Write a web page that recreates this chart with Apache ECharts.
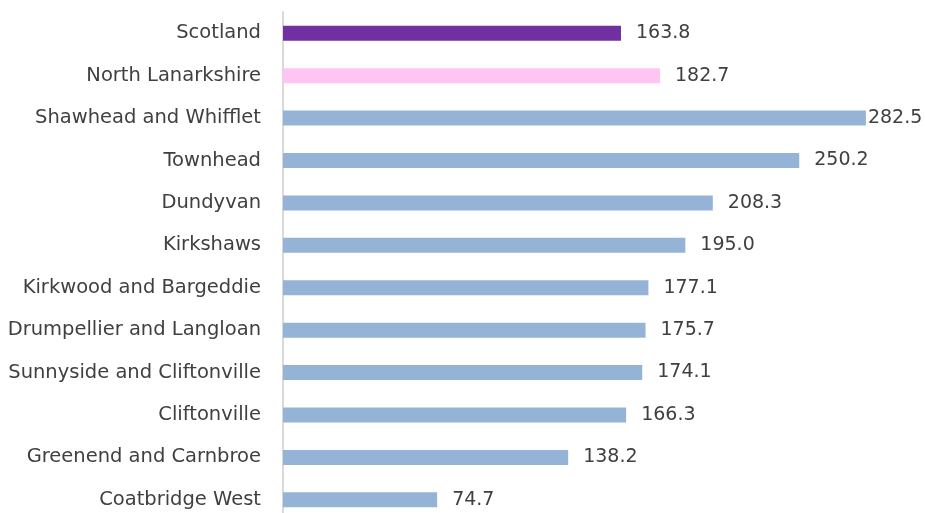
<!DOCTYPE html>
<html>
<head>
<meta charset="utf-8">
<script src="https://cdn.jsdelivr.net/npm/echarts@6/dist/echarts.min.js"></script>
<style>
  html, body { margin: 0; padding: 0; background: #fff; }
  #chart { width: 925px; height: 513px; }
</style>
</head>
<body>
<div id="chart"></div>
<script>
// areas top to bottom
const areas = [
  'Scotland',
  'North Lanarkshire',
  'Shawhead and Whifflet',
  'Townhead',
  'Dundyvan',
  'Kirkshaws',
  'Kirkwood and Bargeddie',
  'Drumpellier and Langloan',
  'Sunnyside and Cliftonville',
  'Cliftonville',
  'Greenend and Carnbroe',
  'Coatbridge West'
];
const rates = [163.8, 182.7, 282.5, 250.2, 208.3, 195.0, 177.1, 175.7, 174.1, 166.3, 138.2, 74.7];
const barColours = ['#7030A0', '#FFC5F2'];
const defaultColour = '#95B3D7';

const chart = echarts.init(document.getElementById('chart'));

const option = {
  animation: false,
  grid: {
    left: 283,
    top: 12,
    width: 619,
    height: 509,
    outerBoundsMode: 'none'
  },
  xAxis: {
    type: 'value',
    min: 0,
    max: 300,
    show: false
  },
  yAxis: {
    type: 'category',
    inverse: true,
    data: areas,
    axisTick: { show: false },
    axisLine: { show: true, lineStyle: { color: '#d9d9d9', width: 2 } },
    axisLabel: {
      margin: 22,
      fontFamily: 'DejaVu Sans',
      fontSize: 19.5,
      color: '#404040'
    }
  },
  series: [{
    type: 'bar',
    barWidth: 15,
    data: rates.map((v, i) => ({
      value: v,
      itemStyle: { color: barColours[i] || defaultColour },
      // longest bar: label squeezed in next to the end, as in the original
      label: v > 270 ? { distance: 2 } : undefined
    })),
    label: {
      show: true,
      position: 'right',
      distance: 15,
      fontFamily: 'DejaVu Sans',
      fontSize: 19,
      color: '#404040',
      formatter: p => p.value.toFixed(1)
    }
  }]
};

chart.setOption(option);
window.addEventListener('resize', function() {
  chart.resize();
});
</script>
</body>
</html>
